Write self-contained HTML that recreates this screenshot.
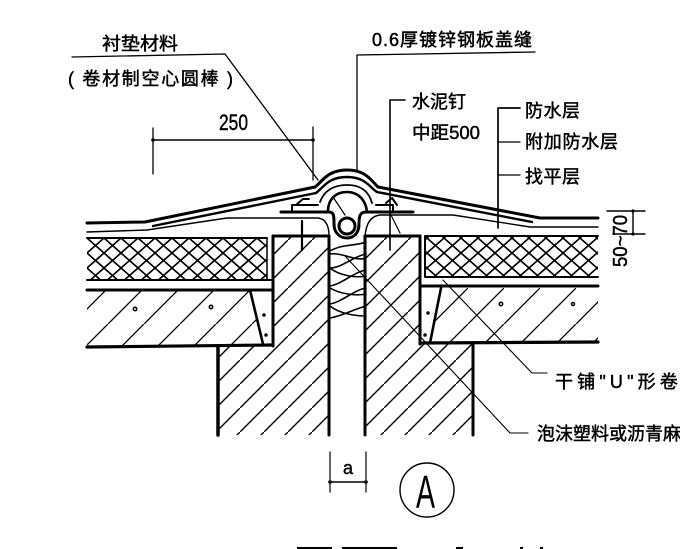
<!DOCTYPE html>
<html>
<head>
<meta charset="utf-8">
<style>
html,body{margin:0;padding:0;background:#fff;width:688px;height:549px;overflow:hidden}
svg{display:block}
text{font-family:"Liberation Sans","Noto Sans CJK SC",sans-serif;fill:#000;stroke:#000;stroke-width:.45px;font-size:18px}
</style>
</head>
<body>
<svg width="688" height="549" viewBox="0 0 688 549" xmlns="http://www.w3.org/2000/svg">
<defs>
<pattern id="cross" width="17" height="15" patternUnits="userSpaceOnUse" patternTransform="translate(87 238)">
<path d="M0 0L17 15M0 15L17 0" stroke="#000" stroke-width="1.6" fill="none"/>
</pattern>
<pattern id="h1" width="36" height="36" patternUnits="userSpaceOnUse">
<path d="M-2 38L38 -2" stroke="#000" stroke-width="1.3" fill="none"/>
</pattern>
<pattern id="h2" width="24" height="24" patternUnits="userSpaceOnUse">
<path d="M-2 26L26 -2" stroke="#000" stroke-width="1.4" fill="none"/>
</pattern>
<clipPath id="cl"><rect x="0" y="0" width="680" height="549"/></clipPath>
</defs>
<rect width="688" height="549" fill="#fff"/>

<!-- fills -->
<rect x="87" y="238" width="180" height="42" fill="url(#cross)"/>
<rect x="425" y="236" width="173" height="41" fill="url(#cross)"/>
<path d="M87 291H250L263 345H87Z" fill="url(#h1)"/>
<path d="M441 288H598V343H430Z" fill="url(#h1)"/>
<path d="M273 237H329V435H218V346H273Z" fill="url(#h2)"/>
<path d="M365 237H420V344H473V435H365Z" fill="url(#h2)"/>

<g fill="none" stroke="#000" stroke-linecap="round" stroke-linejoin="round">
<!-- roofing layers left -->
<path d="M87 223L145 222L315 187" stroke-width="3"/>
<path d="M153 226L316 193" stroke-width="2.4"/>
<path d="M87 232L147 230L227 218H318C326 219 329 226 329 236" stroke-width="1.4"/>
<!-- roofing layers right -->
<path d="M378 187L540 218H598" stroke-width="3"/>
<path d="M377 192L532 222" stroke-width="2.4"/>
<path d="M598 227H530L453 215H380C370 216 366 225 365 236" stroke-width="1.4"/>
<!-- hump -->
<path d="M315 187C322 182 327 170 347 170C367 170 372 182 378 187" stroke-width="3"/>
<path d="M316 193C324 187 328 177 347 177C366 177 370 188 377 192" stroke-width="2.4"/>
<path d="M320 202C323 194 330 185 347 185C362 185 369 192 372 203" stroke-width="1.8"/>
<path d="M328 211C328 201 334 192 347 192C359 192 366 201 367 212" stroke-width="2.6"/>
<!-- flange and U -->
<path d="M281 212H329C334 212 334 216 334 224C334 233 340 238 347 238C354 238 359 233 359 224C359 216 360 212 366 212H413" stroke-width="3"/>
<circle cx="347" cy="226" r="8" stroke-width="3"/>
<path d="M292 212V205H318" stroke-width="2"/>
<path d="M393 205H376M393 205V212" stroke-width="2"/>
<path d="M296 205L303 199H309" stroke-width="2"/>
<path d="M386 203L392 198L397 205" stroke-width="2"/>

<!-- structure -->
<path d="M273 236H329" stroke-width="3"/>
<path d="M365 236H420" stroke-width="3"/>
<path d="M273 236V346" stroke-width="3"/>
<path d="M329 236V435" stroke-width="3"/>
<path d="M365 236V435" stroke-width="3"/>
<path d="M420 236V344" stroke-width="3"/>
<path d="M218 346V435" stroke-width="3.5"/>
<path d="M473 344V435" stroke-width="3"/>
<path d="M87 347L273 345" stroke-width="3.2"/>
<path d="M420 343L598 342" stroke-width="3.2"/>
<path d="M87 290H273" stroke-width="3"/>
<path d="M420 286H598" stroke-width="3"/>
<path d="M87 238H267M87 280H273" stroke-width="2"/>
<path d="M267 238V280" stroke-width="1.5"/>
<path d="M425 236H598M425 277H598M425 236V277" stroke-width="2"/>
<path d="M250 290L263 344" stroke-width="2.6"/>
<path d="M441 288L430 343" stroke-width="2.6"/>
<circle cx="135" cy="309" r="1.7" stroke-width="1.5"/>
<circle cx="211" cy="307" r="1.7" stroke-width="1.5"/>
<circle cx="501" cy="304" r="1.7" stroke-width="1.5"/>
<circle cx="573" cy="304" r="1.5" stroke-width="1.5"/>
<circle cx="264" cy="315" r="1" stroke-width="1.5"/>
<circle cx="266" cy="335" r="1" stroke-width="1.5"/>
<circle cx="428" cy="313" r="1" stroke-width="1.5"/>
<circle cx="425" cy="335" r="1" stroke-width="1.5"/>

<!-- nails -->
<path d="M302 221V250" stroke-width="2.2"/>
<path d="M390 100V250" stroke-width="1.6"/>

<!-- foam -->
<path d="M330 251C342 244 356 246 366 242M330 254C342 252 356 262 366 258M330 268C342 268 354 256 366 254M330 268C340 276 356 278 366 276M330 286C342 284 354 272 366 270M330 288C340 294 356 296 366 294M330 304C342 302 354 290 366 288M330 306C340 314 356 316 366 316M330 318C342 316 352 310 366 306" stroke-width="1.6"/>

<!-- leaders -->
<path d="M72 57L225 54L318 180" stroke-width="1.3"/>
<path d="M333 197L345 215" stroke-width="1.2"/>
<path d="M357 170V55L535 52" stroke-width="1.3"/>
<path d="M405 100H390" stroke-width="1.5"/>
<path d="M520 108H498V228" stroke-width="1.7"/>
<path d="M498 142H520M498 175H520" stroke-width="1.3"/>
<path d="M390 213L400 233" stroke-width="1.2"/>
<path d="M443 280L532 373H547" stroke-width="1.1"/>
<path d="M345 256L510 433H528" stroke-width="1.1"/>

<!-- dim 250 -->
<path d="M153 140H313" stroke-width="1.5"/>
<path d="M153 128V174M313 127V180" stroke-width="1.3"/>
<circle cx="153" cy="140" r="1.8" fill="#000" stroke="none"/>
<circle cx="313" cy="140" r="1.8" fill="#000" stroke="none"/>
<!-- dim 50~70 -->
<path d="M607 211H645M613 234H645M633 211V234" stroke-width="1.4"/>
<circle cx="633" cy="211" r="1.6" fill="#000" stroke="none"/>
<circle cx="633" cy="234" r="1.6" fill="#000" stroke="none"/>
<!-- dim a -->
<path d="M330 452V492M366 452V492" stroke-width="1.2"/>
<path d="M330 482H366" stroke-width="1.6"/>
<circle cx="330" cy="482" r="1.8" fill="#000" stroke="none"/>
<circle cx="366" cy="482" r="1.8" fill="#000" stroke="none"/>
<!-- circle A -->
<circle cx="427" cy="490" r="27" stroke-width="1.4"/>
</g>

<!-- text -->
<text x="102" y="50" textLength="76" lengthAdjust="spacingAndGlyphs">衬垫材料</text>
<text x="68" y="85" textLength="165" lengthAdjust="spacing">( 卷材制空心圆棒 )</text>
<text x="219" y="130" style="font-size:22px" textLength="29" lengthAdjust="spacingAndGlyphs">250</text>
<text x="372" y="46" textLength="160" lengthAdjust="spacing">0.6厚镀锌钢板盖缝</text>
<text x="412" y="108" textLength="54" lengthAdjust="spacing">水泥钉</text>
<text x="412" y="139" textLength="68" lengthAdjust="spacingAndGlyphs">中距500</text>
<text x="525" y="117" textLength="55" lengthAdjust="spacing">防水层</text>
<text x="525" y="148" textLength="93" lengthAdjust="spacing">附加防水层</text>
<text x="525" y="183" textLength="55" lengthAdjust="spacing">找平层</text>
<text transform="translate(627 267) rotate(-90)" style="font-size:20px" textLength="52" lengthAdjust="spacingAndGlyphs">50~70</text>
<g clip-path="url(#cl)">
<text x="555" y="388" textLength="145" lengthAdjust="spacing">干铺"U"形卷材</text>
<text x="537" y="440" textLength="162" lengthAdjust="spacing">泡沫塑料或沥青麻丝</text>
</g>
<text x="343" y="474" style="font-size:18px" textLength="10" lengthAdjust="spacingAndGlyphs">a</text>
<text x="416" y="508" style="font-size:46px;stroke-width:0" textLength="19" lengthAdjust="spacingAndGlyphs">A</text>

<!-- cut-off caption at bottom -->
<rect x="297" y="547" width="35" height="2"/>
<rect x="342" y="547" width="55" height="2"/>
<rect x="456" y="547" width="7" height="2"/>
<rect x="520" y="547" width="3" height="2"/>
<rect x="540" y="547" width="3" height="2"/>
</svg>
</body>
</html>
